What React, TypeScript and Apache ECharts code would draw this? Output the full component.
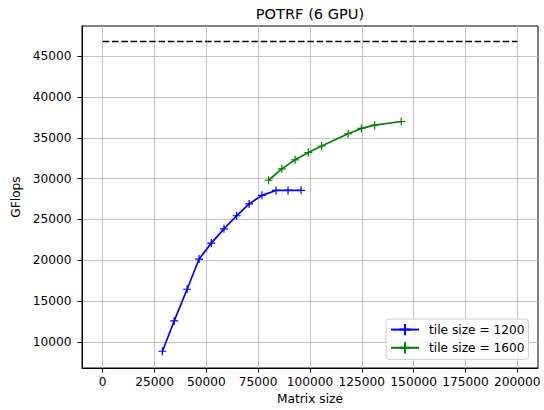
import React, { useEffect, useRef } from "react";
import * as echarts from "echarts";

const blueX = [28800, 34500, 40700, 46500, 52400, 58500, 64600, 70600, 76800, 83600, 89400, 95700];
const blueY = [8850, 12570, 16450, 20150, 22100, 23850, 25450, 26900, 27950, 28550, 28560, 28570];
const greenX = [80000, 86400, 92800, 99200, 105600, 118400, 124800, 131200, 144000];
const greenY = [29800, 31200, 32300, 33200, 34000, 35500, 36150, 36550, 37000];
const peakX = [0, 200000];
const peakY = [46800, 46800];
const xTicks = [0, 25000, 50000, 75000, 100000, 125000, 150000, 175000, 200000];
const yTicks = [10000, 15000, 20000, 25000, 30000, 35000, 40000, 45000];

const FONT = "DejaVu Sans";
const FS = 12.2;
const PLUS = "path://M0 5 L10 5 M5 0 L5 10";

function zip(xs: number[], ys: number[]) {
  return xs.map((x, i) => [x, ys[i]]);
}

export default function App() {
  const ref = useRef<HTMLDivElement>(null);
  useEffect(() => {
    document.body.style.margin = "0";
    const chart = echarts.init(ref.current!, null, { renderer: "svg" });
    const axisCommon = {
      axisLine: { show: true, onZero: false, lineStyle: { color: "#000", width: 1 } },
      axisTick: { show: true, length: 4.5, lineStyle: { color: "#000", width: 1 } },
      splitLine: { show: true, lineStyle: { color: "#c4c4c4", width: 1 } },
      nameTextStyle: { fontFamily: FONT, fontSize: FS, color: "#000" },
    };
    chart.setOption({
      animation: false,
      backgroundColor: "#fff",
      title: {
        text: "POTRF (6 GPU)",
        left: 310,
        top: 6,
        padding: 0,
        textAlign: "center",
        textStyle: { fontFamily: FONT, fontSize: 14.6, fontWeight: "normal", color: "#000" },
      },
      grid: {
        left: 82,
        right: 6,
        top: 26,
        bottom: 42,
        show: true,
        borderColor: "#000",
        borderWidth: 1,
        backgroundColor: "transparent",
      },
      legend: {
        data: ["tile size = 1200", "tile size = 1600"],
        orient: "vertical",
        left: 386,
        top: 319,
        padding: [4, 4, 5, 4],
        itemGap: 5,
        itemWidth: 28,
        itemHeight: 14,
        backgroundColor: "rgba(255,255,255,0.8)",
        borderColor: "#d0d0d0",
        borderWidth: 1,
        borderRadius: 3,
        textStyle: { fontFamily: FONT, fontSize: FS, color: "#000", padding: [0, 0, 0, 5] },
      },
      xAxis: {
        type: "value",
        min: -10000,
        max: 210000,
        name: "Matrix size",
        nameLocation: "middle",
        nameGap: 25,
        ...axisCommon,
        axisTick: { ...axisCommon.axisTick, customValues: xTicks },
        axisLabel: {
          customValues: xTicks,
          fontFamily: FONT,
          fontSize: FS,
          color: "#000",
          margin: 8,
          formatter: (v: number) => String(v),
        },
      },
      yAxis: {
        type: "value",
        min: 6800,
        max: 48700,
        name: "GFlops",
        nameLocation: "middle",
        nameGap: 58,
        ...axisCommon,
        axisTick: { ...axisCommon.axisTick, customValues: yTicks },
        axisLabel: {
          customValues: yTicks,
          fontFamily: FONT,
          fontSize: FS,
          color: "#000",
          margin: 10.5,
          formatter: (v: number) => String(v),
        },
      },
      series: [
        {
          name: "tile size = 1200",
          type: "line",
          data: zip(blueX, blueY),
          symbol: PLUS,
          symbolSize: 8,
          showAllSymbol: true,
          lineStyle: { color: "#0000ff", width: 1.7 },
          itemStyle: { color: "#0000ff", borderColor: "#0000ff", borderWidth: 1.2 },
        },
        {
          name: "tile size = 1600",
          type: "line",
          data: zip(greenX, greenY),
          symbol: PLUS,
          symbolSize: 8,
          showAllSymbol: true,
          lineStyle: { color: "#008000", width: 1.7 },
          itemStyle: { color: "#008000", borderColor: "#008000", borderWidth: 1.2 },
        },
        {
          name: "peak",
          type: "line",
          data: zip(peakX, peakY),
          symbol: "none",
          lineStyle: { color: "#000", width: 1.7, type: [6.5, 2.8] },
        },
      ],
    });
    return () => chart.dispose();
  }, []);
  return <div ref={ref} style={{ width: 544, height: 410 }} />;
}
